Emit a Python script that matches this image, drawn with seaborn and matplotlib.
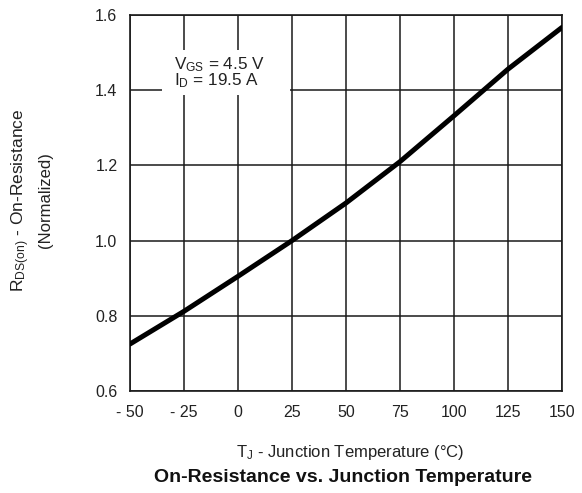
import matplotlib
matplotlib.use("Agg")
import matplotlib.pyplot as plt
import seaborn as sns
import pandas as pd
from matplotlib.patches import Rectangle

temperature = [-50, -25, 0, 25, 50, 75, 100, 125, 150]
rds_norm = [0.725, 0.812, 0.905, 1.0, 1.1, 1.21, 1.332, 1.456, 1.567]
x_ticks = [-50, -25, 0, 25, 50, 75, 100, 125, 150]
x_tick_labels = ["- 50", "- 25", "0", "25", "50", "75", "100", "125", "150"]
y_ticks = [0.6, 0.8, 1.0, 1.2, 1.4, 1.6]
y_tick_labels = ["0.6", "0.8", "1.0", "1.2", "1.4", "1.6"]

sns.set_style("white")
plt.rcParams['font.family'] = ['Liberation Sans', 'DejaVu Sans']
plt.rcParams['mathtext.fontset'] = 'custom'
plt.rcParams['mathtext.rm'] = 'Liberation Sans'
plt.rcParams['mathtext.it'] = 'Liberation Sans'

df = pd.DataFrame({"T": temperature, "R": rds_norm})

fig = plt.figure(figsize=(5.82, 4.93), dpi=100)
ax = fig.add_axes([130/582, 1-391/493, 432/582, 376/493])

sns.lineplot(data=df, x="T", y="R", ax=ax, color="black", linewidth=3.6, zorder=5)

ax.set_xlim(-50, 150)
ax.set_ylim(0.6, 1.6)
ax.set_xticks(x_ticks)
ax.set_xticklabels(x_tick_labels)
ax.set_yticks(y_ticks)
ax.set_yticklabels(y_tick_labels)
ax.grid(True, color="#1a1a1a", linewidth=1.1)
ax.set_axisbelow(True)
for s in ax.spines.values():
    s.set_color("#1a1a1a")
    s.set_linewidth(1.2)
ax.tick_params(axis="both", length=0, labelsize=11.5, colors="#222222")
ax.tick_params(axis="x", pad=10)
ax.tick_params(axis="y", pad=9)

# white box behind condition text
ax.add_patch(Rectangle((-35.2, 1.387), 59.3, 0.12, facecolor="white",
                       edgecolor="none", zorder=3))
ax.text(-29.5, 1.494, r"$\mathrm{V_{GS}}$ = 4.5 V" + "\n" + r"$\mathrm{I_D}$ = 19.5 A",
        fontsize=12.3, va="top", ha="left", zorder=4, color="#222222",
        linespacing=0.85)

ax.set_xlabel("")
ax.set_ylabel("")
fig.text(350/582, 1-452/493, r"$\mathrm{T_J}$ - Junction Temperature (°C)",
         ha="center", va="center", fontsize=12, color="#222222")
fig.text(343/582, 1-478/493, "On-Resistance vs. Junction Temperature",
         ha="center", va="center", fontsize=14, fontweight="bold", color="#111111")
fig.text(21/582, 1-200/493, r"$\mathrm{R_{DS(on)}}$ - On-Resistance",
         ha="center", va="center", rotation=90, fontsize=12.5, color="#222222")
fig.text(46/582, 1-200/493, "(Normalized)",
         ha="center", va="center", rotation=90, fontsize=12, color="#222222")

fig.savefig("out.png", dpi=100)
